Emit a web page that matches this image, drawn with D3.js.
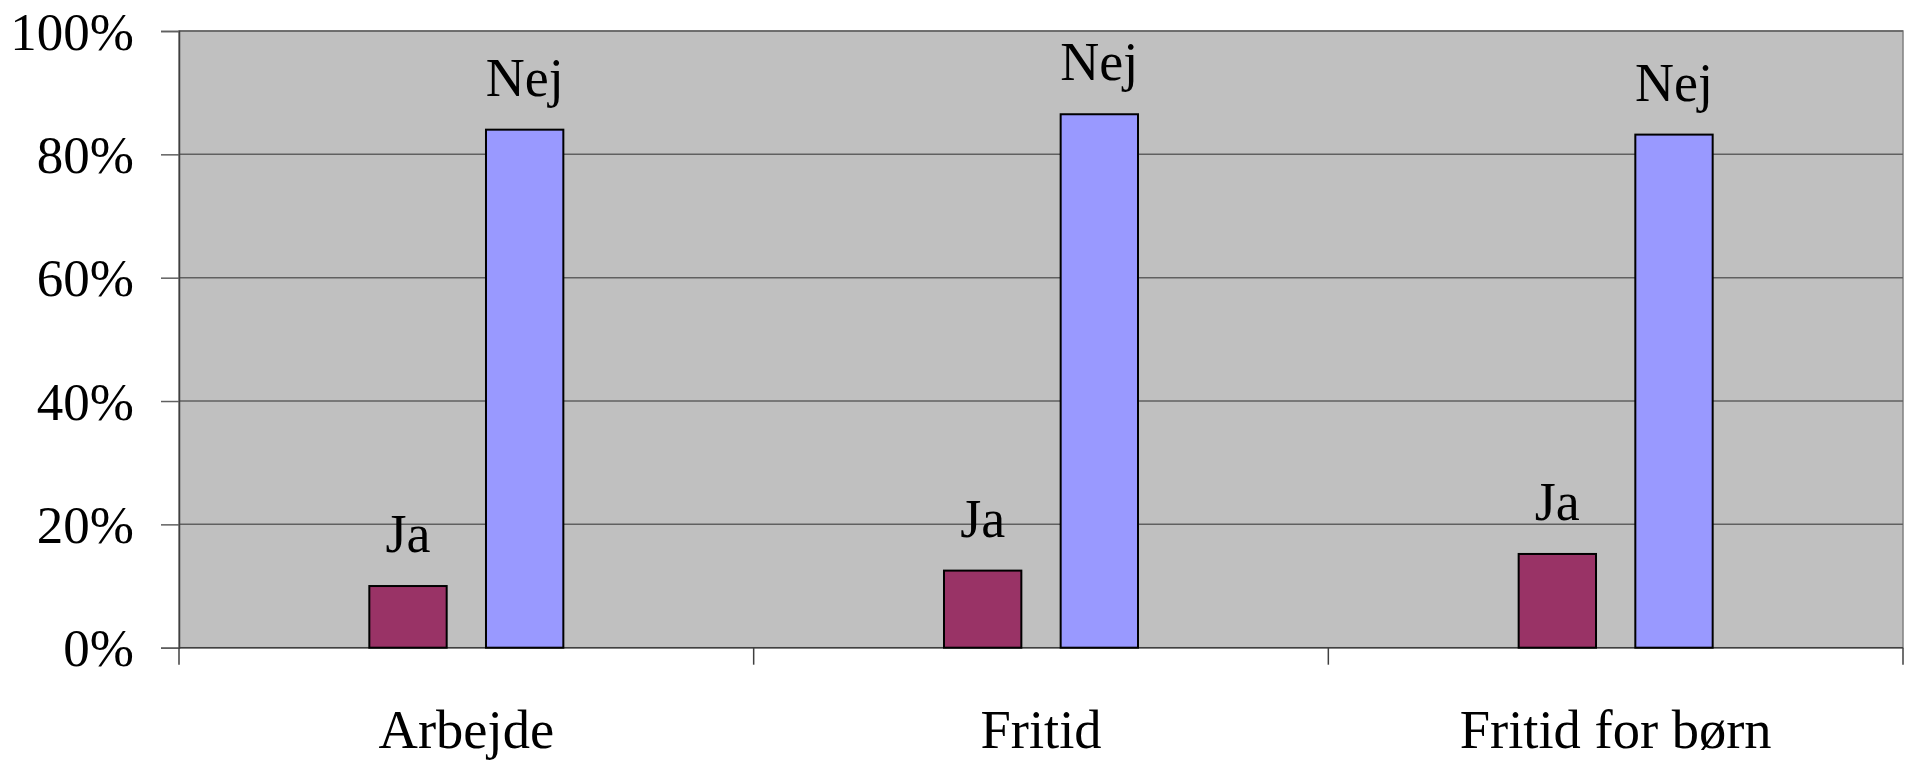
<!DOCTYPE html>
<html>
<head>
<meta charset="utf-8">
<script src="https://cdn.jsdelivr.net/npm/d3@7"></script>
<style>
  html, body { margin: 0; padding: 0; background: #fff; }
  svg { display: block; font-family: "Liberation Serif", "Times New Roman", serif; }
</style>
</head>
<body>
<svg width="1912" height="762"></svg>
<script>
// categories and series
const categories = ["Arbejde", "Fritid", "Fritid for børn"];
const seriesNames = ["Ja", "Nej"];
const jaValues = [0.10, 0.125, 0.152];
const nejValues = [0.84, 0.865, 0.832];
const yTicks = [0, 0.2, 0.4, 0.6, 0.8, 1.0];
const seriesColors = ["#993366", "#9999FF"];

var svg = d3.select("svg"),
    width = +svg.attr("width"),
    height = +svg.attr("height");

// plot area (note: "top" is taken by window.top, so prefixed names)
var plotLeft = 179, plotRight = 1903, plotTop = 31, plotBottom = 647.7;

var x = d3.scaleBand()
    .domain(categories)
    .range([plotLeft, plotRight])
    .padding(0);

var y = d3.scaleLinear()
    .domain([0, 1])
    .range([plotBottom, plotTop]);

// bars in a category sit together in the middle
var groupWidth = x.bandwidth() * 0.3376;
var xs = d3.scaleBand()
    .domain(seriesNames)
    .range([-groupWidth / 2, groupWidth / 2])
    .paddingInner(0.337)
    .paddingOuter(0);

var color = d3.scaleOrdinal().domain(seriesNames).range(seriesColors);

// background of the plot
svg.append("rect")
    .attr("x", plotLeft)
    .attr("y", plotTop)
    .attr("width", plotRight - plotLeft)
    .attr("height", plotBottom - plotTop)
    .attr("fill", "#C0C0C0")
    .attr("stroke", "#808080")
    .attr("stroke-width", 1.5);

// gridlines
svg.append("g")
    .selectAll("line")
    .data(yTicks.filter(d => d > 0))
    .join("line")
    .attr("x1", plotLeft)
    .attr("x2", plotRight)
    .attr("y1", d => y(d))
    .attr("y2", d => y(d))
    .attr("stroke", "#606060")
    .attr("stroke-width", 1.5);

// y axis
var yAxis = d3.axisLeft(y)
    .tickValues(yTicks)
    .tickSize(18)
    .tickPadding(27)
    .tickFormat(d3.format(".0%"));

var gy = svg.append("g")
    .attr("transform", "translate(" + plotLeft + ",0)")
    .call(yAxis);
gy.select(".domain").attr("stroke", "#404040").attr("stroke-width", 1.5);
gy.selectAll(".tick line").attr("stroke", "#606060").attr("stroke-width", 1.5);
gy.selectAll(".tick text")
    .attr("font-family", "Liberation Serif, Times New Roman, serif")
    .attr("font-size", 53)
    .attr("fill", "#000")
    .attr("dy", "0.34em");

// x axis: ticks on category boundaries
var boundaries = categories.map(c => x(c)).concat([x(categories[categories.length - 1]) + x.bandwidth()]);
svg.append("line")
    .attr("x1", plotLeft).attr("x2", plotRight)
    .attr("y1", plotBottom).attr("y2", plotBottom)
    .attr("stroke", "#404040")
    .attr("stroke-width", 1.5);
svg.append("g")
    .selectAll("line")
    .data(boundaries)
    .join("line")
    .attr("x1", d => d).attr("x2", d => d)
    .attr("y1", plotBottom).attr("y2", plotBottom + 17)
    .attr("stroke", "#404040")
    .attr("stroke-width", 1.5);

svg.append("g")
    .selectAll("text")
    .data(categories)
    .join("text")
    .attr("x", d => x(d) + x.bandwidth() / 2)
    .attr("y", 748)
    .attr("text-anchor", "middle")
    .attr("font-size", 54.5)
    .attr("fill", "#000")
    .text(d => d);

// bars
var rows = [];
categories.forEach(function(c, i) {
    rows.push({ cat: c, name: "Ja", value: jaValues[i] });
    rows.push({ cat: c, name: "Nej", value: nejValues[i] });
});

var barX = d => x(d.cat) + x.bandwidth() / 2 + xs(d.name);

svg.append("g")
    .selectAll("rect")
    .data(rows)
    .join("rect")
    .attr("x", barX)
    .attr("y", d => y(d.value))
    .attr("width", xs.bandwidth())
    .attr("height", d => y(0) - y(d.value))
    .attr("fill", d => color(d.name))
    .attr("stroke", "#000")
    .attr("stroke-width", 2);

// series name above each bar
svg.append("g")
    .selectAll("text")
    .data(rows)
    .join("text")
    .attr("x", d => barX(d) + xs.bandwidth() / 2)
    .attr("y", d => y(d.value) - 34)
    .attr("text-anchor", "middle")
    .attr("font-size", 54)
    .attr("fill", "#000")
    .text(d => d.name);
</script>
</body>
</html>
